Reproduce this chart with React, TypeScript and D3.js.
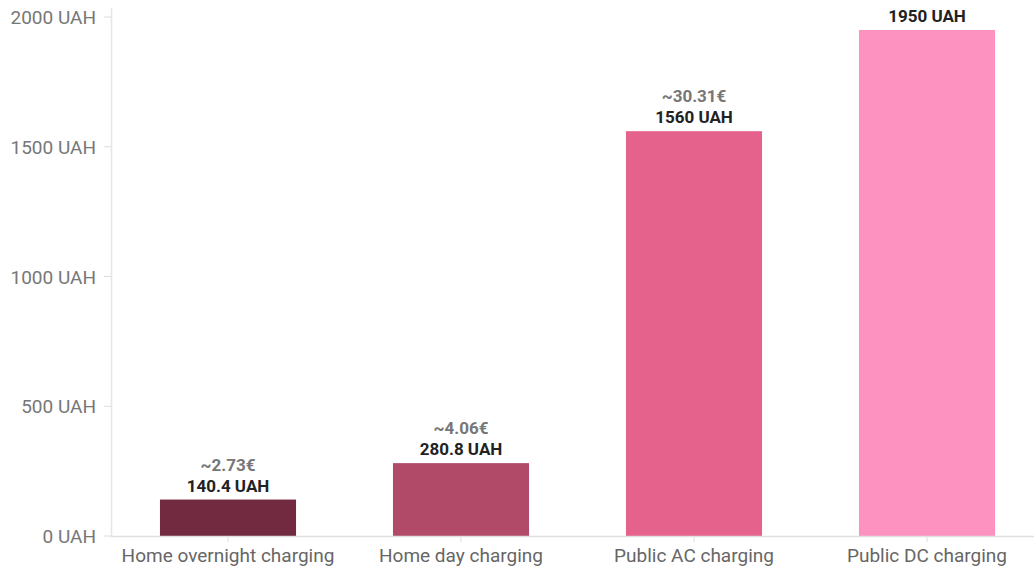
import React from "react";
import * as d3 from "d3";

const categories = ["Home overnight charging", "Home day charging", "Public AC charging", "Public DC charging"];
const valuesUAH = [140.4, 280.8, 1560, 1950];
const valueLabels = ["140.4 UAH", "280.8 UAH", "1560 UAH", "1950 UAH"];
const euroLabels = ["~2.73€", "~4.06€", "~30.31€", ""];
const barColors = ["#722a40", "#b04a68", "#e5628c", "#fd92c1"];
const yTicks = [0, 500, 1000, 1500, 2000];

export default function App() {
  const W = 1034, H = 568;
  const x = d3.scaleBand<string>().domain(categories).range([111.5, 1043.5]).paddingInner(0.416).paddingOuter(0.208);
  const y = d3.scaleLinear().domain([0, 2000]).range([536, 17]);
  const font = "Roboto, 'Noto Sans', sans-serif";
  return (
    <svg width={W} height={H} style={{ position: "absolute", left: 0, top: 0, background: "#fff" }} fontFamily={font}>
      <line x1={111.5} x2={111.5} y1={8} y2={536} stroke="#e6e6e6" strokeWidth={1.5} />
      {yTicks.map((t) => (
        <g key={t}>
          <line x1={104} x2={111} y1={y(t)} y2={y(t)} stroke="#dcdcdc" />
          <text x={96} y={y(t) + 7} textAnchor="end" fontSize={19} fill="#777">{`${t} UAH`}</text>
        </g>
      ))}
      {categories.map((c, i) => {
        const bx = x(c)!;
        const bw = x.bandwidth();
        const top = y(valuesUAH[i]);
        const cx = bx + bw / 2;
        return (
          <g key={c}>
            <rect x={bx} y={top} width={bw} height={y(0) - top} fill={barColors[i]} />
            <text x={cx} y={top - 8} textAnchor="middle" fontSize={17} fontWeight={700} fill="#222">{valueLabels[i]}</text>
            {euroLabels[i] && (
              <text x={cx} y={top - 29} textAnchor="middle" fontSize={17} fontWeight={700} fill="#777">{euroLabels[i]}</text>
            )}
            <line x1={cx} x2={cx} y1={536} y2={542} stroke="#dcdcdc" />
            <text x={cx} y={562} textAnchor="middle" fontSize={19} fill="#666">{c}</text>
          </g>
        );
      })}
      <line x1={111} x2={W} y1={536.5} y2={536.5} stroke="#e0e0e0" strokeWidth={1.5} />
    </svg>
  );
}
